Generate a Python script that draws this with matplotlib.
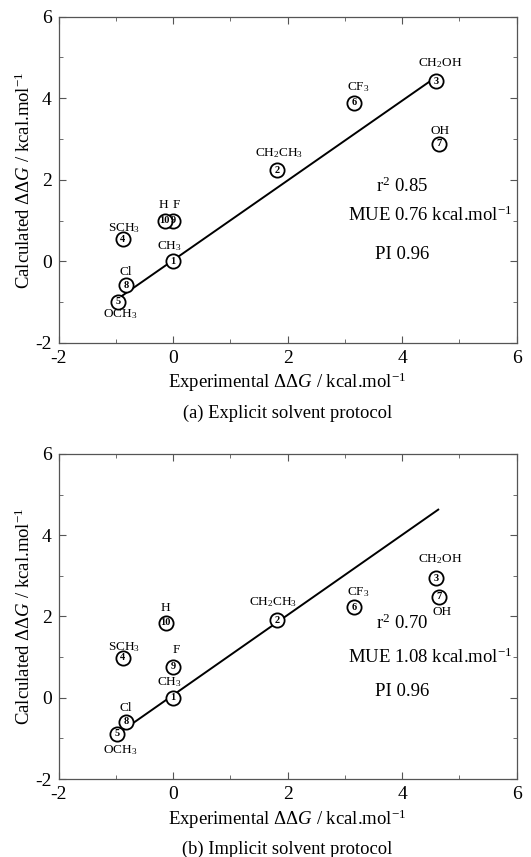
import matplotlib
matplotlib.use('Agg')
import matplotlib.pyplot as plt
from matplotlib.ticker import MultipleLocator

plt.rcParams['font.family'] = ['Liberation Serif', 'DejaVu Serif']
plt.rcParams['mathtext.fontset'] = 'custom'
plt.rcParams['mathtext.rm'] = 'Liberation Serif'
plt.rcParams['mathtext.it'] = 'Liberation Serif:italic'
plt.rcParams['mathtext.bf'] = 'Liberation Serif:bold'
plt.rcParams['axes.unicode_minus'] = False

# numeros de los compuestos y sus grupos
ids = ['1', '2', '3', '4', '5', '6', '7', '8', '9', '10']
groups = ['CH$_3$', 'CH$_2$CH$_3$', 'CH$_2$OH', 'SCH$_3$', 'OCH$_3$',
          'CF$_3$', 'OH', 'Cl', 'F', 'H']

# (a) solvente explicito
exp_a = [0.0, 1.82, 4.59, -0.88, -0.97, 3.16, 4.64, -0.82, 0.0, -0.15]
calc_a = [0.0, 2.24, 4.42, 0.54, -0.99, 3.89, 2.89, -0.59, 1.0, 1.0]
fit_a_x = [-0.93, 4.53]
fit_a_y = [-0.88, 4.46]
stats_a = ['0.85', '0.76', '0.96']

# (b) solvente implicito
exp_b = [0.0, 1.82, 4.59, -0.88, -0.98, 3.16, 4.64, -0.82, 0.0, -0.13]
calc_b = [0.0, 1.91, 2.94, 0.98, -0.89, 2.23, 2.49, -0.59, 0.76, 1.84]
fit_b_x = [-0.93, 4.63]
fit_b_y = [-0.85, 4.63]
stats_b = ['0.70', '1.08', '0.96']

# desplazamiento de las etiquetas (puntos)
off_a = [(-3, 11), (1, 12), (3, 13), (1, 8), (2, -9), (3, 11), (1, 9), (0, 10), (2, 11), (-1, 11)]
off_b = [(-3, 11), (-3, 13), (3, 14), (1, 8), (2, -12), (3, 11), (2, -11), (0, 10), (2, 12), (0, 11)]


def panel(ax, xs, ys, fx, fy, stats, offs, caption, stat_y):
    ax.plot(fx, fy, color='black', lw=1.4, zorder=2)
    ax.scatter(xs, ys, s=105, facecolor='white', edgecolor='black', linewidth=1.3, zorder=3)
    for x, y, n, g, o in zip(xs, ys, ids, groups, offs):
        ax.text(x, y, n, ha='center', va='center', fontsize=7.5, fontweight='bold', zorder=4)
        ax.annotate(g, (x, y), xytext=o, textcoords='offset points',
                    ha='center', va='center', fontsize=9.5)
    ax.set_xlim(-2, 6)
    ax.set_ylim(-2, 6)
    ax.xaxis.set_major_locator(MultipleLocator(2))
    ax.yaxis.set_major_locator(MultipleLocator(2))
    ax.xaxis.set_minor_locator(MultipleLocator(1))
    ax.yaxis.set_minor_locator(MultipleLocator(1))
    ax.tick_params(which='both', direction='in', top=True, right=True, labelsize=14, color='#555555')
    ax.tick_params(which='major', length=5, pad=5)
    ax.tick_params(which='minor', length=3)
    for s in ax.spines.values():
        s.set_color('#555555')
        s.set_linewidth(0.9)
    ax.set_xlabel('Experimental ΔΔ$G$ / kcal.mol$^{-1}$', fontsize=13.5, labelpad=3)
    ax.set_ylabel('Calculated ΔΔ$G$ / kcal.mol$^{-1}$', fontsize=13.5, labelpad=1)
    ax.text(4.0, stat_y[0], 'r$^2$ ' + stats[0], ha='center', va='center', fontsize=13.5)
    ax.text(4.48, stat_y[1], 'MUE ' + stats[1] + ' kcal.mol$^{-1}$', ha='center', va='center', fontsize=13.5)
    ax.text(4.0, stat_y[2], 'PI ' + stats[2], ha='center', va='center', fontsize=13.5)
    ax.text(0.5, -0.215, caption, transform=ax.transAxes, ha='center', va='center', fontsize=13.3)


fig = plt.figure(figsize=(5.31, 8.57), dpi=100)
ax1 = fig.add_axes([0.1105, 0.5998, 0.8625, 0.3807])
ax2 = fig.add_axes([0.1105, 0.0910, 0.8625, 0.3793])

panel(ax1, exp_a, calc_a, fit_a_x, fit_a_y, stats_a, off_a, '(a) Explicit solvent protocol', (1.83, 1.14, 0.16))
panel(ax2, exp_b, calc_b, fit_b_x, fit_b_y, stats_b, off_b, '(b) Implicit solvent protocol', (1.82, 1.0, 0.16))

plt.savefig('out.png', dpi=100)
plt.close()
